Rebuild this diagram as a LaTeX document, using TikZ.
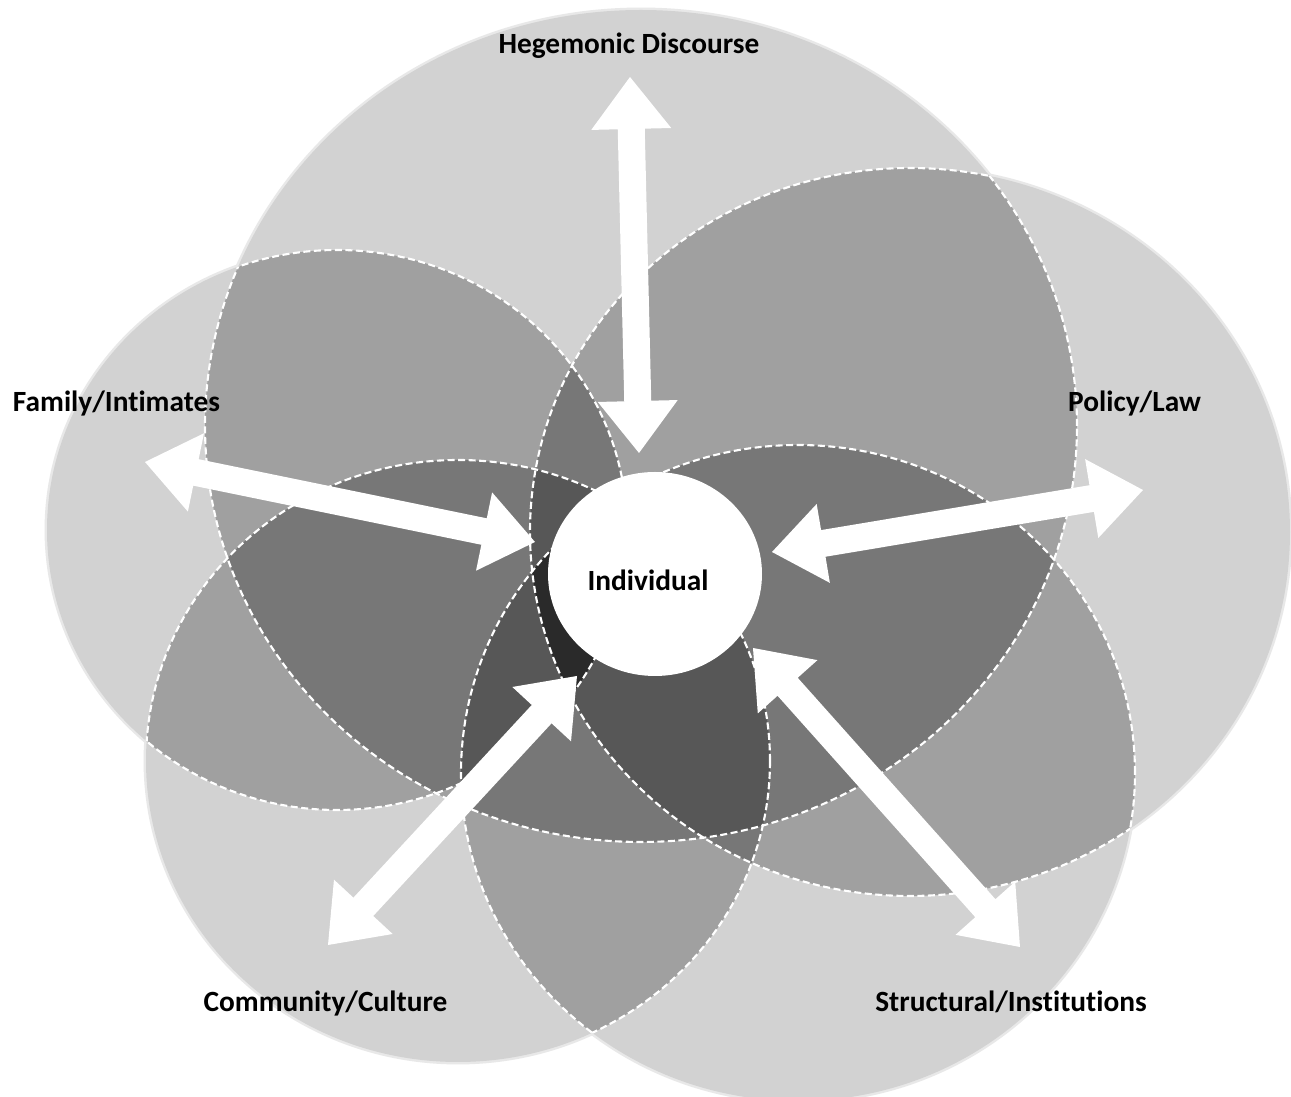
\documentclass[tikz,border=0pt]{standalone}
\usepackage{fontspec}
\setmainfont{Carlito}[Ligatures=NoCommon]
\usetikzlibrary{calc,shapes.geometric}

\definecolor{layerone}{HTML}{D2D2D2}
\definecolor{layertwo}{HTML}{A0A0A0}
\definecolor{layerthree}{HTML}{777777}
\definecolor{layerfour}{HTML}{575757}
\definecolor{layerfive}{HTML}{2A2A2A}
\definecolor{rimgray}{HTML}{E8E8E8}

% the five spheres of influence (1 unit = 0.1mm, y grows downwards)
\def\sphereA{(641,426) ellipse [x radius=43.6mm, y radius=41.6mm]}% Hegemonic Discourse
\def\sphereB{(910,532) ellipse [x radius=38.0mm, y radius=36.4mm]}% Policy/Law
\def\sphereC{(798,773) ellipse [x radius=33.7mm, y radius=32.8mm]}% Structural/Institutions
\def\sphereD{(458,761) ellipse [x radius=31.2mm, y radius=30.1mm]}% Community/Culture
\def\sphereE{(337,530) ellipse [x radius=29.0mm, y radius=28.0mm]}% Family/Intimates
\newcommand\sph[1]{\csname sphere#1\endcsname}

% block double arrow between two named points
\newcommand\dblarrow[2]{%
  \coordinate (#1-b) at ($(#1)!5.2mm!(#2)$);
  \coordinate (#2-b) at ($(#2)!5.2mm!(#1)$);
  \fill[white] (#1)
    -- ($(#1-b)!4mm!90:(#2)$) -- ($(#1-b)!1.35mm!90:(#2)$)
    -- ($(#2-b)!1.35mm!-90:(#1)$) -- ($(#2-b)!4mm!-90:(#1)$)
    -- (#2)
    -- ($(#2-b)!4mm!90:(#1)$) -- ($(#2-b)!1.35mm!90:(#1)$)
    -- ($(#1-b)!1.35mm!-90:(#2)$) -- ($(#1-b)!4mm!-90:(#2)$)
    -- cycle;}

\begin{document}
\begin{tikzpicture}[x=0.1mm,y=-0.1mm,
  seam/.style={draw=white, line width=0.6pt, dash pattern=on 2pt off 1pt},
  rim/.style={draw=rimgray, line width=1.4pt},
  tag/.style={font=\fontsize{8.35}{10}\selectfont\bfseries, anchor=base, inner sep=0pt},
  individual/.style={ellipse, fill=white, minimum width=21.4mm, minimum height=20.4mm, inner sep=0pt}]

\fill[white] (0,0) rectangle (1291,1097);
\useasboundingbox (0,0) rectangle (1291,1097);

% light rim along the outer edge, then the single-layer fill
\foreach \pa in {A,B,C,D,E} \path[rim] \sph{\pa};
\foreach \pa in {A,B,C,D,E} \fill[layerone] \sph{\pa};

% two spheres overlapping
\foreach \pa/\pb in {A/B,A/C,A/D,A/E,B/C,B/D,B/E,C/D,C/E,D/E}{
  \begin{scope}
    \clip \sph{\pa};
    \fill[layertwo] \sph{\pb};
  \end{scope}}

% three spheres overlapping
\foreach \pa/\pb/\pc in {A/B/C,A/B/D,A/B/E,A/C/D,A/C/E,A/D/E,B/C/D,B/C/E,B/D/E,C/D/E}{
  \begin{scope}
    \clip \sph{\pa};
    \clip \sph{\pb};
    \fill[layerthree] \sph{\pc};
  \end{scope}}

% four spheres overlapping
\foreach \pa/\pb/\pc/\pd in {A/B/C/D,A/B/C/E,A/B/D/E,A/C/D/E,B/C/D/E}{
  \begin{scope}
    \clip \sph{\pa};
    \clip \sph{\pb};
    \clip \sph{\pc};
    \fill[layerfour] \sph{\pd};
  \end{scope}}

% all five
\begin{scope}
  \clip \sph{A}; \clip \sph{B}; \clip \sph{C}; \clip \sph{D};
  \fill[layerfive] \sph{E};
\end{scope}

% dashed seams where a sphere lies inside the others
\begin{scope}\clip \sph{B} \sph{C} \sph{D} \sph{E}; \path[seam] \sph{A};\end{scope}
\begin{scope}\clip \sph{A} \sph{C} \sph{D} \sph{E}; \path[seam] \sph{B};\end{scope}
\begin{scope}\clip \sph{A} \sph{B} \sph{D} \sph{E}; \path[seam] \sph{C};\end{scope}
\begin{scope}\clip \sph{A} \sph{B} \sph{C} \sph{E}; \path[seam] \sph{D};\end{scope}
\begin{scope}\clip \sph{A} \sph{B} \sph{C} \sph{D}; \path[seam] \sph{E};\end{scope}

% the individual at the centre
\node[individual] (ind) at (655,574) {};
\node[tag] (indtext) at (648,591) {Individual};

% arrow end points
\coordinate (hegOut) at (630,77);    \coordinate (hegIn) at (639,453);
\coordinate (famOut) at (145,462);   \coordinate (famIn) at (535,542);
\coordinate (polOut) at (1143,490);  \coordinate (polIn) at (772,552);
\coordinate (comOut) at (328,945);   \coordinate (comIn) at (577,676);
\coordinate (strOut) at (1020,947);  \coordinate (strIn) at (753,648);

\dblarrow{hegOut}{hegIn}
\dblarrow{famOut}{famIn}
\dblarrow{polOut}{polIn}
\dblarrow{comOut}{comIn}
\dblarrow{strOut}{strIn}

% sphere labels
\node[tag] (heg) at (629,54) {Hegemonic Discourse};
\node[tag] (fam) at (116.5,412) {Family/Intimates};
\node[tag] (pol) at (1134.5,412) {Policy/Law};
\node[tag] (com) at (325.5,1012) {Community/Culture};
\node[tag] (str) at (1011,1012) {Structural/Institutions};
\end{tikzpicture}
\end{document}
